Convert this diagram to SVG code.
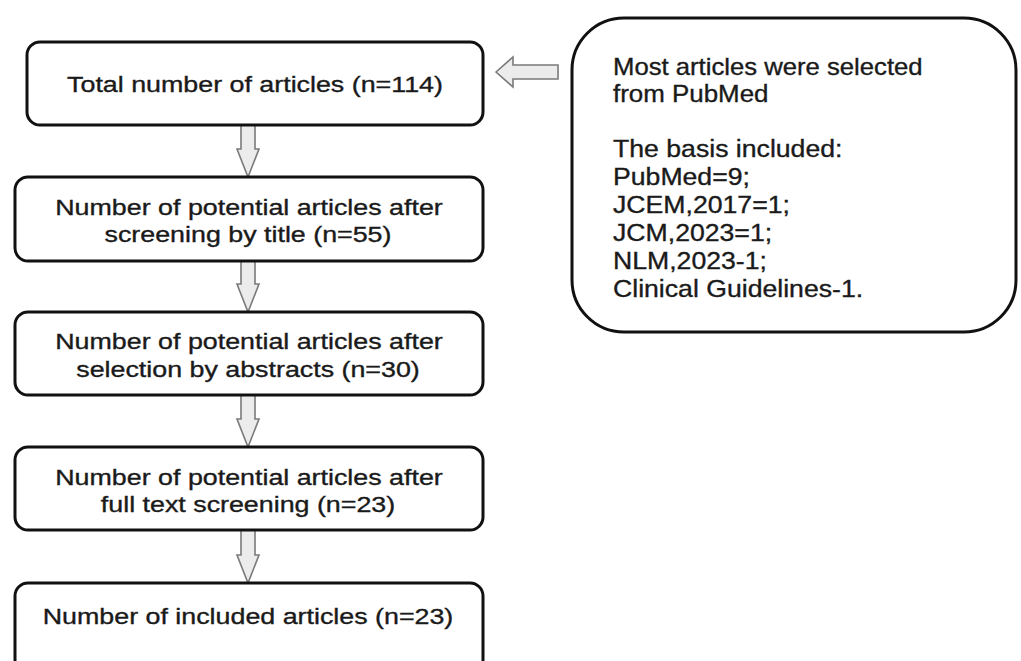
<svg xmlns="http://www.w3.org/2000/svg" width="1021" height="661" viewBox="0 0 1021 661">
<style>
.box{fill:#fff;stroke:#111;stroke-width:3}
.arr{fill:#ececec;stroke:#7a7a7a;stroke-width:1.6;stroke-linejoin:miter}
text{font-family:"Liberation Sans",Arial,sans-serif;fill:#1a1a1a;stroke:#1a1a1a;stroke-width:0.35}
.c{text-anchor:middle;font-size:22px}
.n{font-size:24px}
</style>
<rect width="1021" height="661" fill="#fff"/>
<g id="connectors">
<polygon class="arr" points="241,125 255,125 255,149 259,149 248,177 237,149 241,149"/>
<polygon class="arr" points="241,261 255,261 255,284 259,284 248,312 237,284 241,284"/>
<polygon class="arr" points="241,395 255,395 255,419 259,419 248,447 237,419 241,419"/>
<polygon class="arr" points="241,530 255,530 255,555 259,555 248,583 237,555 241,555"/>
<polygon class="arr" points="496,72 513,57 513,65 558,65 558,79 513,79 513,87"/>
</g>
<g id="n1">
<rect class="box" x="27" y="42" width="456" height="83" rx="13"/>
<text class="c" transform="translate(255 92) scale(1.22 1)">Total number of articles (n=114)</text>
</g>
<g id="n2">
<rect class="box" x="15" y="177" width="468" height="84" rx="13"/>
<text class="c" transform="translate(249 215) scale(1.22 1)">Number of potential articles after</text>
<text class="c" transform="translate(248 242) scale(1.22 1)">screening by title (n=55)</text>
</g>
<g id="n3">
<rect class="box" x="15" y="312" width="468" height="83" rx="13"/>
<text class="c" transform="translate(249 349) scale(1.22 1)">Number of potential articles after</text>
<text class="c" transform="translate(248 377) scale(1.22 1)">selection by abstracts (n=30)</text>
</g>
<g id="n4">
<rect class="box" x="15" y="447" width="468" height="83" rx="13"/>
<text class="c" transform="translate(249 485) scale(1.22 1)">Number of potential articles after</text>
<text class="c" transform="translate(248 512) scale(1.22 1)">full text screening (n=23)</text>
</g>
<g id="n5">
<rect class="box" x="15" y="583" width="468" height="90" rx="13"/>
<text class="c" transform="translate(248 624) scale(1.22 1)">Number of included articles (n=23)</text>
</g>
<g id="note">
<rect class="box" x="572" y="18" width="444" height="314" rx="52"/>
<text class="n" transform="translate(613 75) scale(1.07 1)">Most articles were selected</text>
<text class="n" transform="translate(613 102) scale(1.08 1)">from PubMed</text>
<text class="n" transform="translate(613 157) scale(1.11 1)">The basis included:</text>
<text class="n" transform="translate(613 185) scale(1.11 1)">PubMed=9;</text>
<text class="n" transform="translate(613 213) scale(1.11 1)">JCEM,2017=1;</text>
<text class="n" transform="translate(613 241) scale(1.11 1)">JCM,2023=1;</text>
<text class="n" transform="translate(613 269) scale(1.11 1)">NLM,2023-1;</text>
<text class="n" transform="translate(613 297) scale(1.11 1)">Clinical Guidelines-1.</text>
</g>
</svg>
